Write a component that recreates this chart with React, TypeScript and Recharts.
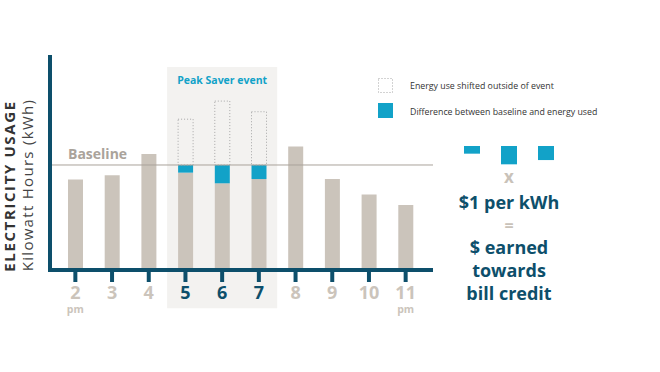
import React from 'react';
import { ComposedChart, Bar, XAxis, YAxis, ReferenceLine, ReferenceArea } from 'recharts';

// ---- data ----
const hours = ['2', '3', '4', '5', '6', '7', '8', '9', '10', '11'];
const usage = [42.5, 44.5, 54.5, 45.7, 40.7, 42.7, 58, 42.7, 35.5, 30.5];
const baseline = 49.3;
const shiftedTop: (number | null)[] = [null, null, null, 70.8, 79.3, 74.3, null, null, null, null];
const eventHours = ['5', '6', '7'];
const pmHours = ['2', '11'];
const yMax = 100;
const peakTop = 95.3;
const peakBottom = -18;

const legendLabels = ['Energy use shifted outside of event', 'Difference between baseline and energy used'];
const creditLines = ['$ earned', 'towards', 'bill credit'];

// ---- styles ----
const DARK = '#0d4f6b';
const GRAY = '#cbc4bb';
const BLUE = '#12a2c8';
const SHADE = '#f3f2f0';
const FONT = '"Open Sans", sans-serif';

const W = 660;
const H = 372;
const X_AXIS_H = 40;
const Y_AXIS_W = 4;
const M = { top: 57, right: 227, bottom: 102 - X_AXIS_H, left: 50 - Y_AXIS_W };
const plotH = H - M.top - M.bottom - X_AXIS_H;
const pxPerUnit = plotH / yMax;

const data = hours.map((h, i) => {
  const isEvent = eventHours.includes(h);
  const top = shiftedTop[i];
  return {
    hour: h,
    usage: usage[i],
    diff: isEvent ? +(baseline - usage[i]).toFixed(2) : 0,
    shifted: top != null ? +(top - baseline).toFixed(2) : 0,
  };
});
const diffs = data.filter((d) => eventHours.includes(d.hour)).map((d) => d.diff);

const HourTick = (props: any) => {
  const { x, y, payload } = props;
  const v = String(payload.value);
  const isEvent = eventHours.includes(v);
  return (
    <g>
      <text x={x} y={y + 15} textAnchor="middle" fontFamily={FONT} fontWeight={700} fontSize={18} fill={isEvent ? DARK : GRAY}>
        {v}
      </text>
      {pmHours.includes(v) && (
        <text x={x} y={y + 29} textAnchor="middle" fontFamily={FONT} fontWeight={700} fontSize={10.5} fill={GRAY}>
          pm
        </text>
      )}
    </g>
  );
};

const PeakLabel = (props: any) => {
  const vb = props.viewBox || {};
  return (
    <text x={vb.x + vb.width / 2} y={vb.y + 17} textAnchor="middle" fontFamily={FONT} fontWeight={700} fontSize={10.5} fill={BLUE}>
      Peak Saver event
    </text>
  );
};

const BaselineLabel = (props: any) => {
  const vb = props.viewBox || {};
  return (
    <text x={vb.x + 18} y={vb.y - 6} fontFamily={FONT} fontWeight={700} fontSize={14} fill="#aaa39b">
      Baseline
    </text>
  );
};

export default function App() {
  return (
    <div style={{ position: 'absolute', left: 0, top: 0, width: W, height: H, background: '#fff' }}>
      <ComposedChart width={W} height={H} data={data} margin={M}>
        <ReferenceArea
          x1="5"
          x2="7"
          y1={peakBottom}
          y2={peakTop}
          ifOverflow="visible"
          fill={SHADE}
          fillOpacity={1}
          stroke="none"
          label={PeakLabel}
        />
        <ReferenceLine y={baseline} stroke="#a9a29a" strokeWidth={1} label={BaselineLabel} />
        <Bar dataKey="usage" stackId="a" fill={GRAY} barSize={15} isAnimationActive={false} />
        <Bar dataKey="diff" stackId="a" fill={BLUE} barSize={15} isAnimationActive={false} />
        <Bar dataKey="shifted" stackId="a" fill="none" stroke="#a6a6a6" strokeWidth={1} strokeDasharray="1 2" barSize={15} isAnimationActive={false} />
        <XAxis
          dataKey="hour"
          height={X_AXIS_H}
          padding={{ left: 7, right: 9 }}
          axisLine={{ stroke: DARK, strokeWidth: 4 }}
          tickLine={{ stroke: DARK, strokeWidth: 4 }}
          tickSize={12}
          tick={HourTick}
          interval={0}
        />
        <YAxis
          domain={[0, yMax]}
          width={Y_AXIS_W}
          tick={false}
          tickLine={false}
          axisLine={{ stroke: DARK, strokeWidth: 4, strokeLinecap: 'square' }}
        />
      </ComposedChart>
      <svg width={W} height={H} style={{ position: 'absolute', left: 0, top: 0, pointerEvents: 'none' }}>
        {/* axis titles */}
        <text transform="translate(15,186) rotate(-90)" textAnchor="middle" fontFamily={FONT} fontWeight={700} fontSize={15} letterSpacing={1.6} fill="#333">
          ELECTRICITY USAGE
        </text>
        <text transform="translate(33,185) rotate(-90)" textAnchor="middle" fontFamily={FONT} fontSize={15} letterSpacing={1.3} fill="#444">
          Kilowatt Hours (kWh)
        </text>
        {/* legend */}
        <rect x={378.5} y={78.5} width={14} height={14} fill="none" stroke="#a6a6a6" strokeDasharray="1 2" />
        <text x={410} y={89} fontFamily={FONT} fontSize={8.8} fill="#333">{legendLabels[0]}</text>
        <rect x={378} y={103} width={15} height={15} fill={BLUE} />
        <text x={410} y={115} fontFamily={FONT} fontSize={8.8} fill="#333">{legendLabels[1]}</text>
        {/* credit explanation */}
        {diffs.map((d, i) => (
          <rect key={i} x={464 + i * 37} y={146} width={16} height={d * pxPerUnit} fill={BLUE} />
        ))}
        <text x={509} y={183} textAnchor="middle" fontFamily={FONT} fontWeight={700} fontSize={17} fill="#c9c2b9">x</text>
        <text x={509} y={209} textAnchor="middle" fontFamily={FONT} fontWeight={700} fontSize={18} fill={DARK}>$1 per kWh</text>
        <text x={509} y={231} textAnchor="middle" fontFamily={FONT} fontWeight={700} fontSize={16} fill="#c9c2b9">=</text>
        {creditLines.map((t, i) => (
          <text key={t} x={509} y={254 + i * 23} textAnchor="middle" fontFamily={FONT} fontWeight={700} fontSize={18} fill={DARK}>
            {t}
          </text>
        ))}
      </svg>
    </div>
  );
}
